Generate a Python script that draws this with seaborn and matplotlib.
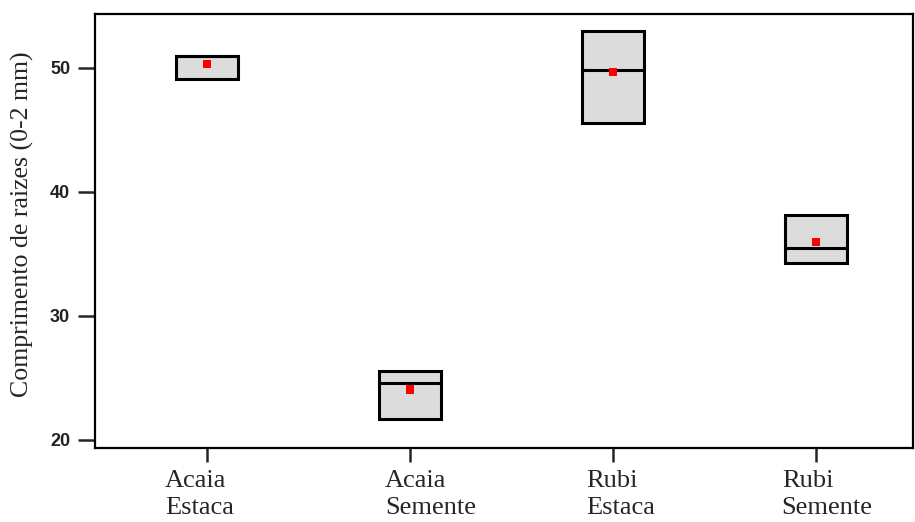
import matplotlib
matplotlib.use('Agg')

import pandas as pd
import matplotlib.pyplot as plt
import matplotlib.transforms as mtransforms
import seaborn as sns

# values
grupos = ["Acaia\nEstaca", "Acaia\nSemente", "Rubi\nEstaca", "Rubi\nSemente"]
q1 = [49.1, 21.7, 45.6, 34.3]
mediana = [51.0, 24.6, 49.8, 35.5]
q3 = [51.0, 25.55, 53.0, 38.1]
media = [50.35, 24.05, 49.7, 35.95]

# five values per group give exactly q1 / median / q3
linhas = []
for g, a, m, b in zip(grupos, q1, mediana, q3):
    for v in (a, a, m, b, b):
        linhas.append({"grupo": g, "valor": v})
df = pd.DataFrame(linhas)
df_media = pd.DataFrame({"grupo": grupos, "media": media})

sns.set_style("ticks")
fig = plt.figure(figsize=(9.15, 5.22), dpi=100)
ax = fig.add_axes([0.104, 0.142, 0.894, 0.831])

sns.boxplot(data=df, x="grupo", y="valor", order=grupos, ax=ax,
            width=0.305, whis=0, showcaps=False, showfliers=False,
            color="#dcdcdc", saturation=1, linecolor="black", linewidth=2.2)
for p in ax.patches:
    p.set_facecolor("#dcdcdc")
    p.set_edgecolor("black")

sns.scatterplot(data=df_media, x="grupo", y="media", ax=ax, marker="s",
                color="red", s=35, edgecolor="none", zorder=5)

ax.set_xlim(-0.55, 3.48)
ax.set_ylim(19.34, 54.35)
ax.set_yticks([20, 30, 40, 50])
ax.set_xlabel("")
ax.set_ylabel("Comprimento de raizes (0-2 mm)", fontfamily="Liberation Serif",
              fontsize=18.6)
ax.yaxis.set_label_coords(-0.075, 0.516)

for s in ax.spines.values():
    s.set_linewidth(1.6)
    s.set_color("black")

ax.tick_params(axis="y", length=12, width=1.8, labelsize=13, pad=6)
ax.tick_params(axis="x", length=10, width=1.8, pad=6)
for t in ax.get_yticklabels():
    t.set_fontfamily("Liberation Sans")
    t.set_fontweight("bold")
    t.set_color("#222222")

# labels sit left-aligned, a little left of each tick
desloc = [-42, -25, -27, -34]
for t, d in zip(ax.get_xticklabels(), desloc):
    t.set_fontfamily("Liberation Serif")
    t.set_fontsize(19)
    t.set_horizontalalignment("left")
    t.set_linespacing(1.3)
    t.set_transform(t.get_transform() +
                    mtransforms.ScaledTranslation(d / 100, 0, fig.dpi_scale_trans))

fig.savefig("out.png", dpi=100)
